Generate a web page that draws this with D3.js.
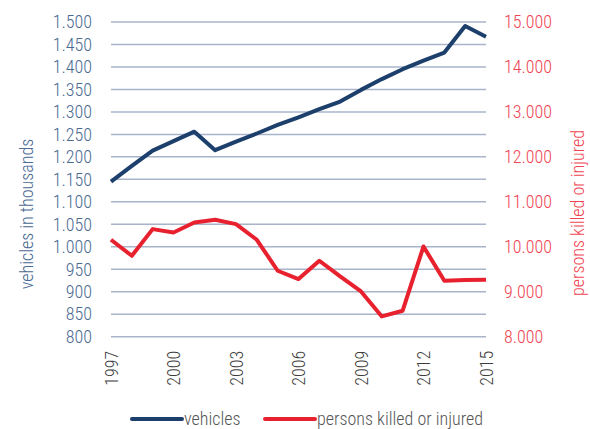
<!DOCTYPE html>
<meta charset="utf-8">
<script src="https://d3js.org/d3.v7.min.js"></script>
<style>
  body { margin: 0; background: #fff; }
  svg text { font-family: "Roboto", sans-serif; font-stretch: 75%; font-weight: 350; }
</style>
<body>
<div id="viz"></div>
<script>
const years = d3.range(1997, 2016);
const vehicles = [1145, 1180, 1214, 1235, 1256, 1215, 1234, 1252, 1271, 1288,
                  1306, 1323, 1349, 1373, 1395, 1414, 1432, 1491, 1467];
const persons = [10156, 9800, 10393, 10318, 10540, 10600, 10504, 10156, 9467, 9282,
                 9689, 9340, 9007, 8451, 8578, 10007, 9244, 9260, 9267];
const xTicks = [1997, 2000, 2003, 2006, 2009, 2012, 2015];
const leftTicks = d3.range(800, 1501, 50);
const rightTicks = d3.range(8000, 15001, 1000);

const W = 590, H = 429;
const blue = "#1c3f6b", red = "#e8212f";
const x0 = 111, x1 = 486, yTop = 22, yBot = 336.7;

const fmt = d3.formatLocale({decimal: ",", thousands: ".", grouping: [3], currency: ["", ""]}).format(",");

const svg = d3.select("#viz").append("svg")
  .attr("width", W).attr("height", H);

const x = d3.scaleLinear().domain([1997, 2015]).range([x0, x1]);
const yL = d3.scaleLinear().domain([800, 1500]).range([yBot, yTop]);
const yR = d3.scaleLinear().domain([8000, 15000]).range([yBot, yTop]);

// gridlines
svg.append("g")
  .selectAll("line")
  .data(leftTicks)
  .join("line")
    .attr("x1", x0).attr("x2", x1)
    .attr("y1", d => yL(d)).attr("y2", d => yL(d))
    .attr("stroke", "#a8b4ca").attr("stroke-width", 1.5);

// left axis
const gl = svg.append("g")
  .attr("transform", `translate(${x0},0)`)
  .call(d3.axisLeft(yL).tickValues(leftTicks).tickFormat(fmt).tickSize(0).tickPadding(19));
gl.select(".domain").remove();
gl.selectAll("text").attr("font-size", 18).attr("fill", "#4b6a92");

// right axis
const gr = svg.append("g")
  .attr("transform", `translate(${x1},0)`)
  .call(d3.axisRight(yR).tickValues(rightTicks).tickFormat(fmt).tickSize(0).tickPadding(18));
gr.select(".domain").remove();
gr.selectAll("text").attr("font-size", 18).attr("fill", "#ef4452");

// x axis
const gx = svg.append("g")
  .attr("transform", `translate(0,${yBot})`)
  .call(d3.axisBottom(x).tickValues(xTicks).tickFormat(d3.format("d")).tickSize(0));
gx.select(".domain").remove();
gx.selectAll("text")
  .attr("transform", "rotate(-90)")
  .attr("text-anchor", "end")
  .attr("x", -14).attr("y", 0).attr("dy", "0.35em")
  .attr("font-size", 18).attr("fill", "#3d3d3d");

// axis titles
svg.append("text")
  .attr("transform", `translate(27,214) rotate(-90)`)
  .attr("text-anchor", "middle").attr("dy", "0.35em")
  .attr("font-size", 18).attr("fill", "#4b6a92")
  .text("vehicles in thousands");

svg.append("text")
  .attr("transform", `translate(578,213) rotate(-90)`)
  .attr("text-anchor", "middle").attr("dy", "0.35em")
  .attr("font-size", 18).attr("fill", "#ef4452")
  .text("persons killed or injured");

// lines
const lineV = d3.line().x((d, i) => x(years[i])).y(d => yL(d));
const lineP = d3.line().x((d, i) => x(years[i])).y(d => yR(d));

svg.append("path").datum(vehicles)
  .attr("d", lineV).attr("fill", "none")
  .attr("stroke", blue).attr("stroke-width", 4).attr("stroke-linejoin", "round");

svg.append("path").datum(persons)
  .attr("d", lineP).attr("fill", "none")
  .attr("stroke", red).attr("stroke-width", 4).attr("stroke-linejoin", "round");

// legend
const legend = [
  {name: "vehicles", color: blue, x: 132},
  {name: "persons killed or injured", color: red, x: 265}
];
const lg = svg.append("g").selectAll("g").data(legend).join("g")
  .attr("transform", d => `translate(${d.x},419)`);
lg.append("line")
  .attr("x1", 0).attr("x2", 50).attr("y1", 0).attr("y2", 0)
  .attr("stroke", d => d.color).attr("stroke-width", 4).attr("stroke-linecap", "round");
lg.append("text")
  .attr("x", 52).attr("dy", "0.33em")
  .attr("font-size", 18).attr("fill", "#555")
  .text(d => d.name);
</script>
</body>
